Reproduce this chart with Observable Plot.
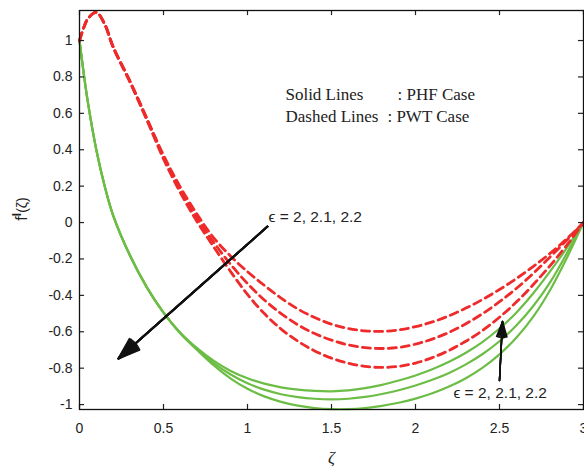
<!DOCTYPE html>
<html><head><meta charset="utf-8">
<script src="https://cdn.jsdelivr.net/npm/d3@7"></script>
<script src="https://cdn.jsdelivr.net/npm/@observablehq/plot@0.6"></script>
<style>body{margin:0;background:#fff} #chart svg{display:block}</style>
</head><body><div id="chart"></div>
<script>
// x grid (zeta)
const zeta = [0, 0.025, 0.05, 0.1, 0.15, 0.2, 0.3, 0.4, 0.5, 0.6, 0.7, 0.8, 0.9, 1.0, 1.1, 1.2, 1.3, 1.4, 1.5, 1.6, 1.7, 1.8, 1.9, 2.0, 2.1, 2.2, 2.3, 2.4, 2.5, 2.6, 2.7, 2.8, 2.9, 3.0];

// PHF case (solid), epsilon = 2, 2.1, 2.2
const phf_2   = [1, 0.82, 0.66, 0.40, 0.20, 0.04, -0.18, -0.355, -0.495, -0.605, -0.69, -0.76, -0.815, -0.855, -0.885, -0.905, -0.918, -0.925, -0.927, -0.922, -0.91, -0.892, -0.868, -0.84, -0.806, -0.765, -0.715, -0.655, -0.582, -0.495, -0.39, -0.27, -0.14, 0];
const phf_2_1 = [1, 0.82, 0.66, 0.40, 0.20, 0.04, -0.18, -0.355, -0.495, -0.607, -0.695, -0.772, -0.835, -0.883, -0.918, -0.943, -0.959, -0.968, -0.971, -0.968, -0.958, -0.942, -0.921, -0.895, -0.864, -0.826, -0.779, -0.722, -0.652, -0.566, -0.46, -0.33, -0.17, 0];
const phf_2_2 = [1, 0.82, 0.66, 0.40, 0.20, 0.04, -0.18, -0.355, -0.495, -0.61, -0.70, -0.785, -0.857, -0.913, -0.955, -0.985, -1.006, -1.019, -1.025, -1.025, -1.019, -1.007, -0.99, -0.967, -0.938, -0.901, -0.855, -0.797, -0.724, -0.633, -0.518, -0.373, -0.196, 0];

// PWT case (dashed), epsilon = 2, 2.1, 2.2
const pwt_2   = [1, 1.07, 1.12, 1.155, 1.09, 0.967, 0.778, 0.575, 0.37, 0.195, 0.045, -0.085, -0.185, -0.27, -0.345, -0.415, -0.475, -0.522, -0.558, -0.582, -0.595, -0.598, -0.59, -0.572, -0.546, -0.512, -0.47, -0.422, -0.368, -0.308, -0.242, -0.17, -0.09, 0];
const pwt_2_1 = [1, 1.07, 1.12, 1.155, 1.09, 0.965, 0.775, 0.57, 0.36, 0.18, 0.025, -0.11, -0.23, -0.335, -0.425, -0.50, -0.562, -0.61, -0.646, -0.672, -0.687, -0.692, -0.686, -0.668, -0.64, -0.603, -0.556, -0.50, -0.435, -0.362, -0.28, -0.19, -0.097, 0];
const pwt_2_2 = [1, 1.07, 1.12, 1.155, 1.09, 0.963, 0.772, 0.565, 0.35, 0.165, 0.005, -0.135, -0.27, -0.395, -0.50, -0.585, -0.652, -0.705, -0.745, -0.773, -0.79, -0.796, -0.79, -0.772, -0.742, -0.702, -0.652, -0.592, -0.52, -0.437, -0.342, -0.238, -0.125, 0];

const epsilons = ["2", "2.1", "2.2"];
const xTicks = [0, 0.5, 1, 1.5, 2, 2.5, 3];
const yTicks = [-1, -0.8, -0.6, -0.4, -0.2, 0, 0.2, 0.4, 0.6, 0.8, 1];
const epsLabel = "\u03F5 = 2, 2.1, 2.2";
const legendSolid = ["Solid Lines", ": PHF Case"];
const legendDashed = ["Dashed Lines", ": PWT Case"];

function series(ys, eps) { return zeta.map((x, i) => ({x, y: ys[i], eps})); }
const phf = [...series(phf_2, epsilons[0]), ...series(phf_2_1, epsilons[1]), ...series(phf_2_2, epsilons[2])];
const pwt = [...series(pwt_2, epsilons[0]), ...series(pwt_2_1, epsilons[1]), ...series(pwt_2_2, epsilons[2])];

const serif = "'Liberation Serif', 'Times New Roman', serif";
const ink = "#222";
const X0 = 0, X1 = 3, Y0 = -1.027, Y1 = 1.165;
const tx = 0.03, ty = 0.028; // inward tick length in data units (~5px)

// filled-looking arrowheads: several heads of growing angle share one tip
const headAngles = [6, 14, 22, 30, 38];
const arrowMarks = headAngles.flatMap(a => [
  Plot.arrow([0], {x1: 1.119, y1: -0.022, x2: 0.232, y2: -0.747, stroke: "#111", strokeWidth: 2, headLength: 17, headAngle: a}),
  Plot.arrow([0], {x1: 2.50, y1: -0.868, x2: 2.518, y2: -0.544, stroke: "#111", strokeWidth: 1.5, headLength: 16, headAngle: a})
]);

const plot = Plot.plot({
  width: 584, height: 466,
  marginLeft: 79, marginRight: 1, marginTop: 10, marginBottom: 57,
  x: {domain: [X0, X1]},
  y: {domain: [Y0, Y1]},
  style: {fontFamily: "'Liberation Sans', Arial, sans-serif", fontSize: "14px", color: ink, background: "white"},
  marks: [
    Plot.line(phf, {x: "x", y: "y", z: "eps", stroke: "#6cbd45", strokeWidth: 2.2, curve: "catmull-rom"}),
    Plot.line(pwt, {x: "x", y: "y", z: "eps", stroke: "#ee2a2a", strokeWidth: 2.8, strokeDasharray: "8,5", curve: "catmull-rom"}),
    // inward tick marks on all four sides
    Plot.ruleX(xTicks, {x: d => d, y1: Y0, y2: Y0 + ty, stroke: ink, strokeWidth: 1.2}),
    Plot.ruleX(xTicks, {x: d => d, y1: Y1, y2: Y1 - ty, stroke: ink, strokeWidth: 1.2}),
    Plot.ruleY(yTicks, {y: d => d, x1: X0, x2: X0 + tx, stroke: ink, strokeWidth: 1.2}),
    Plot.ruleY(yTicks, {y: d => d, x1: X1, x2: X1 - tx, stroke: ink, strokeWidth: 1.2}),
    Plot.axisX({ticks: xTicks, tickSize: 0, tickPadding: 14, label: null, tickFormat: d => String(d)}),
    Plot.axisY({ticks: yTicks, tickSize: 0, tickPadding: 7, label: null, tickFormat: d => String(d)}),
    Plot.frame({stroke: "#111", strokeWidth: 1.3}),
    ...arrowMarks,
    Plot.text([epsLabel], {x: 1.125, y: 0.033, text: d => d, textAnchor: "start", fontSize: 15.5, fill: ink}),
    Plot.text([epsLabel], {x: 2.226, y: -0.934, text: d => d, textAnchor: "start", fontSize: 15.5, fill: ink}),
    Plot.text([legendSolid[0]], {x: 1.226, y: 0.703, text: d => d, textAnchor: "start", fontSize: 17, fontFamily: serif, fill: ink}),
    Plot.text([legendSolid[1]], {x: 1.893, y: 0.703, text: d => d, textAnchor: "start", fontSize: 17, fontFamily: serif, fill: ink}),
    Plot.text([legendDashed[0]], {x: 1.226, y: 0.582, text: d => d, textAnchor: "start", fontSize: 17, fontFamily: serif, fill: ink}),
    Plot.text([legendDashed[1]], {x: 1.833, y: 0.582, text: d => d, textAnchor: "start", fontSize: 17, fontFamily: serif, fill: ink}),
    Plot.text(["\u03B6"], {frameAnchor: "bottom", dy: 53, text: d => d, fontSize: 17, fontStyle: "italic", fontFamily: serif, fill: ink})
  ]
});

// y-axis label f^I(ζ)
const svg = d3.select(plot);
const yl = svg.append("text")
  .attr("transform", "translate(27,209) rotate(-90)")
  .attr("text-anchor", "middle")
  .attr("fill", ink)
  .attr("font-family", "'Liberation Sans', Arial, sans-serif")
  .attr("font-size", 16);
yl.append("tspan").text("f");
yl.append("tspan").attr("dy", -6).attr("font-size", 12).attr("font-weight", "bold").text("I");
yl.append("tspan").attr("dy", 6).attr("font-size", 14).text("(\u03B6)");

document.getElementById("chart").appendChild(plot);
</script>
</body></html>
